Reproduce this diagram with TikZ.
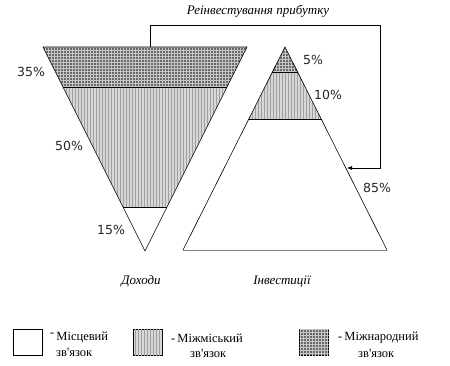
\documentclass[tikz,border=0pt]{standalone}
\usepackage{fontspec}
\setmainfont{Liberation Serif}
\newfontfamily\pctfont{DejaVu Sans}
\usepackage{tikz}
\usetikzlibrary{
	arrows.meta, 
	patterns, 
	positioning, 
	calc
}
\definecolor{DarkBand}{RGB}{105, 105, 105}
\definecolor{LightBand}{RGB}{215, 215, 215}

\tikzset{
	outline/.style={draw=black, line width=0.6pt},
	dark band/.style={fill=DarkBand, postaction={pattern=grid, pattern color=gray!45}},
	mid band/.style={fill=LightBand, postaction={pattern=vertical lines, pattern color=gray!75}},
	pct/.style={font=\pctfont\fontsize{12.5}{14}\selectfont, text=black!85, inner sep=0pt},
	caption/.style={font=\itshape\fontsize{13}{15}\selectfont, inner sep=0pt},
	legend box/.style={draw=black, line width=0.6pt, minimum width=29pt, minimum height=26pt, inner sep=0pt},
	legend text/.style={font=\fontsize{12.5}{14}\selectfont, inner sep=0pt, anchor=west}
}

\begin{document}
\begin{tikzpicture}[x=1pt, y=-1pt]
		\useasboundingbox (0,0) rectangle (450,365);
		% income (inverted triangle)
		\coordinate (inc tl) at (43,47);
		\coordinate (inc tr) at (247,47);
		\coordinate (inc apex) at (145,251);
		\fill[dark band] (inc tl) -- (inc tr) -- (227,87) -- (63,87) -- cycle;
		\fill[mid band] (63,87) -- (227,87) -- (167,207) -- (123,207) -- cycle;
		\draw[outline] (inc tl) -- (inc tr) -- (inc apex) -- cycle;
		\draw[outline] (63,87) -- (227,87);
		\draw[outline] (123,207) -- (167,207);
		% investments (triangle)
		\coordinate (inv apex) at (285,47);
		\coordinate (inv bl) at (183,250);
		\coordinate (inv br) at (387,250);
		\fill[dark band] (inv apex) -- (298,72) -- (272,72) -- cycle;
		\fill[mid band] (272,72) -- (298,72) -- (321,119) -- (249,119) -- cycle;
		\draw[outline] (inv bl) -- (inv apex) -- (inv br);
		\draw[line width=0.6pt, gray] (inv bl) -- (inv br);
		\draw[outline] (272,72) -- (298,72);
		\draw[outline] (249,119) -- (321,119);
		% reinvestment loop
		\coordinate (reinv src) at (150,47);
		\coordinate (reinv turn) at (380,25);
		\coordinate (reinv dst) at (347,168);
		\draw[outline, -{Latex[length=5pt, width=4pt]}] (reinv src) |- (reinv turn) |- (reinv dst);
		\node[caption] (reinv) at (258,11) {Реінвестування прибутку};
		% labels
		\node[pct] (p35) at (31,72) {35\%};
		\node[pct] (p50) at (69,146) {50\%};
		\node[pct] (p15) at (111,230) {15\%};
		\node[pct] (p5) at (313,60) {5\%};
		\node[pct] (p10) at (328,95) {10\%};
		\node[pct] (p85) at (377,188) {85\%};
		\node[caption] (income) at (141,281) {Доходи};
		\node[caption] (invest) at (282,281) {Інвестиції};
		% legend
		\node[legend box] (local box) at (27.5,342.5) {};
		\node[legend box, mid band] (intercity box) at (147.5,342.5) {};
		\node[legend box, dark band] (intl box) at (314,342.5) {};
		\node[legend text] (local txt) at (50,337) {\raisebox{4pt}{-}\,Місцевий};
		\node[legend text] (local txt2) at (56,352) {зв\textquotesingle язок};
		\node[legend text] (intercity txt) at (171,338) {-\,Міжміський};
		\node[legend text] (intercity txt2) at (190,353) {зв\textquotesingle язок};
		\node[legend text] (intl txt) at (338,338) {-\,Міжнародний};
		\node[legend text] (intl txt2) at (358,353) {зв\textquotesingle язок};
	\end{tikzpicture}
\end{document}
